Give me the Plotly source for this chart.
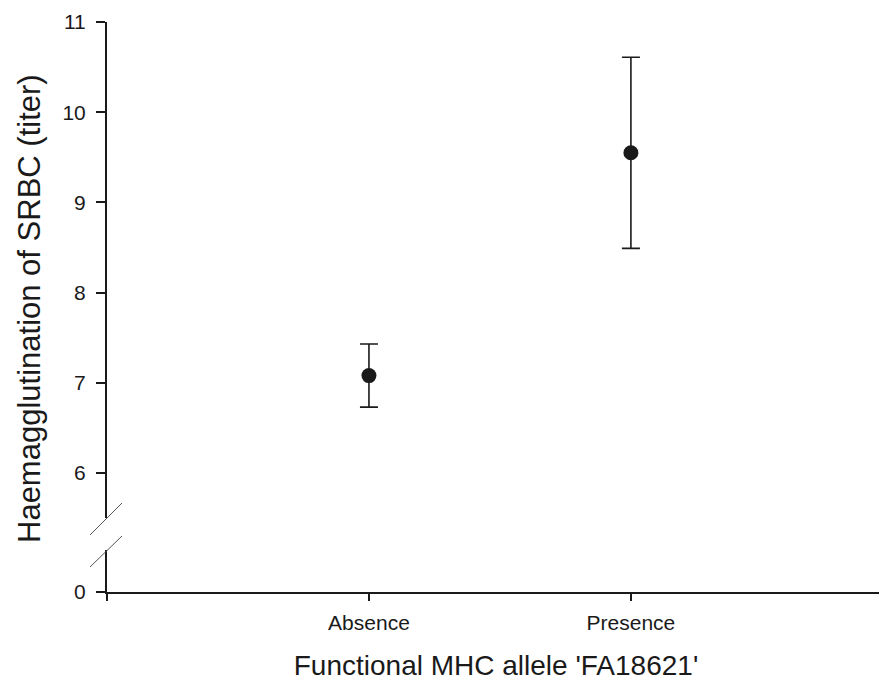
import plotly.graph_objects as go

categories = ["Absence", "Presence"]
x_pos = [1, 2]
means = [7.08, 9.55]
errors = [0.35, 1.06]
y_ticks_top = [6, 7, 8, 9, 10, 11]
y_ticks_bottom = [0]

OFF = 8  # page body margin in the browser
W, H = 887 - OFF, 683 - OFF
L, R, T, B = 107 - OFF, 2, 22 - OFF, 683 - 592
ph = H - T - B
gap_top_px = 518
gap_bot_px = 550
axis_bottom_px = 592
dom_top0 = (axis_bottom_px - gap_top_px) / ph
dom_bot1 = (axis_bottom_px - gap_bot_px) / ph
px_per_unit = (473 - 22) / 5.0
top_min = 11 - (gap_top_px - 22) / px_per_unit
bot_max = (axis_bottom_px - gap_bot_px) / px_per_unit

font = "Liberation Sans, Arial, sans-serif"
ink = "#1a1a1a"
tick_font = dict(size=21, family=font, color=ink)

fig = go.Figure()
fig.add_trace(go.Scatter(
    x=x_pos, y=means, mode="markers",
    marker=dict(size=15, color=ink, symbol="circle"),
    error_y=dict(type="data", array=errors, visible=True, color=ink,
                 thickness=1.6, width=9),
    showlegend=False, xaxis="x", yaxis="y", hoverinfo="skip",
))
fig.add_trace(go.Scatter(x=[None], y=[None], xaxis="x", yaxis="y2",
                         showlegend=False, hoverinfo="skip"))

yax_common = dict(
    ticks="outside", ticklen=9, tickwidth=1.5, tickcolor=ink,
    showline=True, linecolor=ink, linewidth=2,
    showgrid=False, zeroline=False, anchor="x",
    tickfont=tick_font, ticklabelstandoff=6,
)

fig.update_layout(
    width=W, height=H,
    margin=dict(l=L, r=R, t=T, b=B),
    paper_bgcolor="white", plot_bgcolor="white",
    font=dict(family=font, color=ink),
    xaxis=dict(
        range=[0, 2.97], tickvals=[0] + x_pos, ticktext=[""] + categories,
        ticks="outside", ticklen=7, tickwidth=1.5, tickcolor=ink,
        showline=True, linecolor=ink, linewidth=2,
        showgrid=False, zeroline=False, anchor="y2",
        tickfont=tick_font, ticklabelstandoff=4,
        title=dict(text="Functional MHC allele 'FA18621'",
                   font=dict(size=28, family=font, color=ink), standoff=22),
    ),
    yaxis=dict(domain=[dom_top0, 1], range=[top_min, 11], tickvals=y_ticks_top,
               **yax_common),
    yaxis2=dict(domain=[0, dom_bot1], range=[0, bot_max], tickvals=y_ticks_bottom,
                **yax_common),
)

def px2paper(xp, yp):
    return (xp - 107) / (W - L - R), (axis_bottom_px - yp) / ph

for (x0p, y0p, x1p, y1p) in [(90, 535, 122, 503), (90, 567, 122, 536)]:
    a = px2paper(x0p, y0p)
    b = px2paper(x1p, y1p)
    fig.add_shape(type="line", xref="paper", yref="paper",
                  x0=a[0], y0=a[1], x1=b[0], y1=b[1],
                  line=dict(color="#555555", width=1))

tx, ty = px2paper(29, 309)
fig.add_annotation(text="Haemagglutination of SRBC (titer)", xref="paper", yref="paper",
                   x=tx, y=ty, textangle=-90, showarrow=False,
                   xanchor="center", yanchor="middle",
                   font=dict(size=31, family=font, color=ink))

fig.write_html("out.html")
